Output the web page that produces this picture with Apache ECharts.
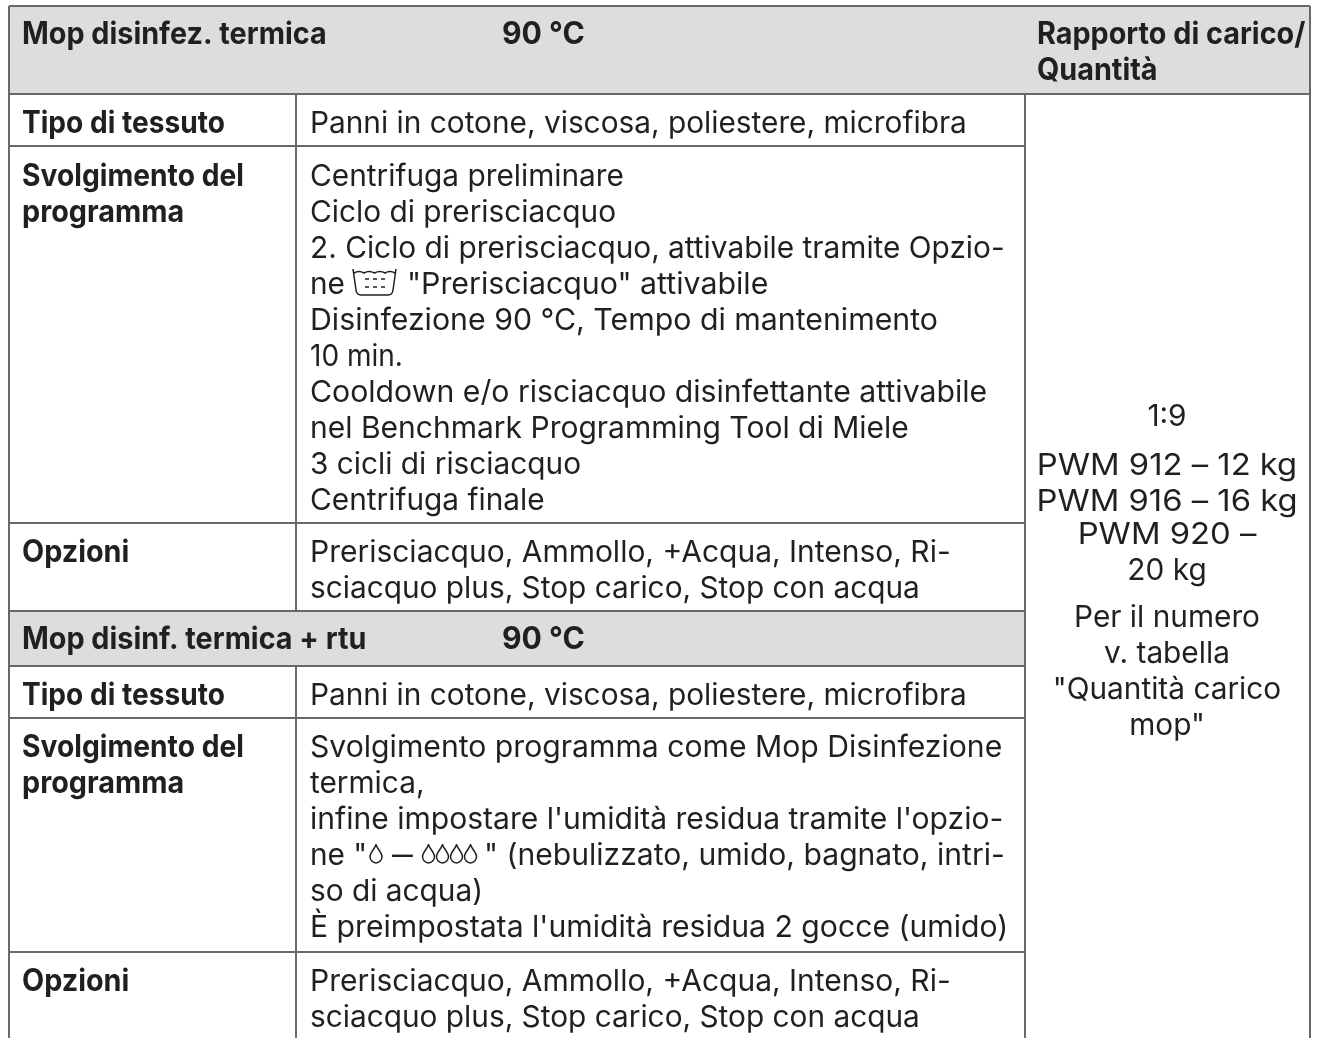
<!DOCTYPE html>
<html>
<head>
    <meta charset="utf-8">
    <title>Mop disinfez. termica</title>
    <script src="https://cdnjs.cloudflare.com/ajax/libs/echarts/6.0.0/echarts.min.js"></script>
    <style>html,body{margin:0;padding:0;background:#fff}</style>
</head>
<body>
    <div id="main" style="width:1318px;height:1038px;"></div>
    <script type="text/javascript">
        // table content
        var title1 = ['Mop disinfez. termica', '90 °C'];
        var title2 = ['Mop disinf. termica + rtu', '90 °C'];
        var loadHead = ['Rapporto di carico/', 'Quantità'];
        var rowLabels1 = ['Tipo di tessuto', 'Svolgimento del', 'programma', 'Opzioni'];
        var rowLabels2 = ['Tipo di tessuto', 'Svolgimento del', 'programma', 'Opzioni'];
        var fabric = ['Panni in cotone, viscosa, poliestere, microfibra'];
        var steps1a = ['Centrifuga preliminare', 'Ciclo di prerisciacquo', '2. Ciclo di prerisciacquo, attivabile tramite Opzio-'];
        var steps1b = ['Disinfezione 90 °C, Tempo di mantenimento', '10 min.',
            'Cooldown e/o risciacquo disinfettante attivabile', 'nel Benchmark Programming Tool di Miele',
            '3 cicli di risciacquo', 'Centrifuga finale'];
        var rinseLine = ['ne', '"Prerisciacquo" attivabile'];
        var options = ['Prerisciacquo, Ammollo, +Acqua, Intenso, Ri-', 'sciacquo plus, Stop carico, Stop con acqua'];
        var steps2a = ['Svolgimento programma come Mop Disinfezione', 'termica,', "infine impostare l'umidità residua tramite l'opzio-"];
        var dropLine = ['ne "', '–', '" (nebulizzato, umido, bagnato, intri-'];
        var steps2b = ['so di acqua)', "È preimpostata l'umidità residua 2 gocce (umido)"];
        var ratio = ['1:9'];
        var models = ['PWM 912 – 12 kg', 'PWM 916 – 16 kg'];
        var models2 = ['PWM 920 –', '20 kg'];
        var note = ['Per il numero', 'v. tabella', '"Quantità carico', 'mop"'];

        // layout, in page pixels
        var W = 1318, H = 1038, LH = 36;
        var xL = 9, xA = 296, xB = 1025, xR = 1310;
        var TX = 22, BX = 310, CX = 1167, HX = 1037, DEG = 502, DY = 1;
        var BODY = {font: 'Inter', size: 29.8, weight: 400, sx: 1};
        var BOLD = {font: 'Inter', size: 30.6, weight: 700, sx: 0.94};

        // the original typeface is a bit wider or narrower on some lines
        var fit = {
            'Disinfezione 90 °C, Tempo di mantenimento': 1.016,
            'Cooldown e/o risciacquo disinfettante attivabile': 1.014,
            'nel Benchmark Programming Tool di Miele': 1.007,
            '"Prerisciacquo" attivabile': 1.017,
            'Svolgimento programma come Mop Disinfezione': 1.012,
            "infine impostare l'umidità residua tramite l'opzio-": 1.009,
            '" (nebulizzato, umido, bagnato, intri-': 1.01,
            "È preimpostata l'umidità residua 2 gocce (umido)": 1.012,
            'Prerisciacquo, Ammollo, +Acqua, Intenso, Ri-': 1.006,
            '10 min.': 0.94,
            'PWM 912 – 12 kg': 1.1,
            'PWM 916 – 16 kg': 1.1,
            'PWM 920 –': 1.1,
            '–': 1.4,
            'Tipo di tessuto': 0.977,
            'Svolgimento del': 0.982,
            '90 °C': 1.05
        };

        var bands = [[xL, 6, xR, 94], [xL, 611, xB, 666]];
        var rules = [
            [xL, 6, xR, 6], [xL, 94, xR, 94],
            [xL, 146, xB, 146], [xL, 523, xB, 523], [xL, 611, xB, 611], [xL, 666, xB, 666], [xL, 718, xB, 718], [xL, 952, xB, 952],
            [xL, 6, xL, H], [xR, 6, xR, H],
            [xA, 94, xA, 611], [xA, 666, xA, H], [xB, 94, xB, H]
        ];

        var texts = [];
        function put(lines, x, y, style, align) {
            lines.forEach(function (s, i) { texts.push([x, y + DY + i * LH, s, style, align || 'left']); });
        }
        put(title1.slice(0, 1), TX, 34, BOLD);
        put(title1.slice(1), DEG, 34, BOLD);
        put(loadHead, HX, 34, BOLD);
        put(rowLabels1.slice(0, 1), TX, 123, BOLD);
        put(rowLabels1.slice(1, 3), TX, 176, BOLD);
        put(rowLabels1.slice(3), TX, 552, BOLD);
        put(fabric, BX, 123, BODY);
        put(steps1a, BX, 176, BODY);
        put(rinseLine.slice(0, 1), BX, 284, BODY);
        put(rinseLine.slice(1), 407, 284, BODY);
        put(steps1b, BX, 320, BODY);
        put(options, BX, 552, BODY);
        put(title2.slice(0, 1), TX, 639, BOLD);
        put(title2.slice(1), DEG, 639, BOLD);
        put(rowLabels2.slice(0, 1), TX, 695, BOLD);
        put(rowLabels2.slice(1, 3), TX, 747, BOLD);
        put(rowLabels2.slice(3), TX, 981, BOLD);
        put(fabric, BX, 695, BODY);
        put(steps2a, BX, 747, BODY);
        put(dropLine.slice(0, 1), BX, 855, BODY);
        put(dropLine.slice(1, 2), 392, 855, BODY);
        put(dropLine.slice(2), 484, 855, BODY);
        put(steps2b, BX, 891, BODY);
        put(options, BX, 981, BODY);
        put(ratio, CX, 416, BODY, 'center');
        put(models, CX, 465, BODY, 'center');
        put(models2, CX, 534, BODY, 'center');
        put(note, CX, 617, BODY, 'center');

        // inline symbols: x, y, w, h, path
        var DROP = 'M5 0 C5 3 0 7 0 10.5 A5 5.5 0 0 0 10 10.5 C10 7 5 3 5 0 Z';
        var RINSE = 'M0 0 L3 21 Q3.5 26 8 26 H35 Q39.5 26 40 21 L43 0 M1 4 Q6 1 11 4 Q16 1 21.5 4 Q27 1 32 4 Q37 1 42 4 M12 10 H16 M20 10 H24 M28 10 H32 M12 18 H16 M20 18 H24 M28 18 H32';
        var icons = [
            [353, 269, 43, 26, RINSE],
            [370, 844, 12, 19, DROP],
            [422.5, 844, 12, 19, DROP], [436.5, 844, 12, 19, DROP], [450.5, 844, 12, 19, DROP], [464.5, 844, 12, 19, DROP]
        ];

        var myChart = echarts.init(document.getElementById('main'));
        var option = {
            animation: false,
            backgroundColor: '#fff',
            grid: {left: 0, right: 0, top: 0, bottom: 0},
            xAxis: {type: 'value', min: 0, max: W, show: false},
            yAxis: {type: 'value', min: 0, max: H, inverse: true, show: false},
            series: [{
                type: 'custom',
                silent: true,
                data: bands,
                renderItem: function (params, api) {
                    var a = api.coord([api.value(0), api.value(1)]);
                    var b = api.coord([api.value(2), api.value(3)]);
                    return {type: 'rect', shape: {x: a[0], y: a[1], width: b[0] - a[0], height: b[1] - a[1]}, style: {fill: '#dcddde'}};
                }
            }, {
                type: 'custom',
                silent: true,
                data: rules,
                renderItem: function (params, api) {
                    var a = api.coord([api.value(0), api.value(1)]);
                    var b = api.coord([api.value(2), api.value(3)]);
                    return {type: 'line', shape: {x1: a[0], y1: a[1], x2: b[0], y2: b[1]}, style: {stroke: '#66686a', lineWidth: 2}};
                }
            }, {
                type: 'custom',
                silent: true,
                data: texts.map(function (t, i) { return [t[0], t[1], i]; }),
                renderItem: function (params, api) {
                    var t = texts[api.value(2)];
                    var p = api.coord([api.value(0), api.value(1)]);
                    return {
                        type: 'text', x: p[0], y: p[1], scaleX: t[3].sx * (fit[t[2]] || 1), originX: 0,
                        style: {
                            text: t[2], fontFamily: t[3].font, fontSize: t[3].size, fontWeight: t[3].weight,
                            fill: '#231f20', textAlign: t[4], verticalAlign: 'middle'
                        }
                    };
                }
            }, {
                type: 'custom',
                silent: true,
                data: icons.map(function (t, i) { return [t[0], t[1], t[2], t[3], i]; }),
                renderItem: function (params, api) {
                    var a = api.coord([api.value(0), api.value(1)]);
                    return {
                        type: 'path',
                        shape: {pathData: icons[api.value(4)][4], x: a[0], y: a[1], width: api.value(2), height: api.value(3), layout: 'cover'},
                        style: {fill: 'none', stroke: '#231f20', lineWidth: 1.5}
                    };
                }
            }]
        };
        myChart.setOption(option);
    </script>
</body>
</html>
